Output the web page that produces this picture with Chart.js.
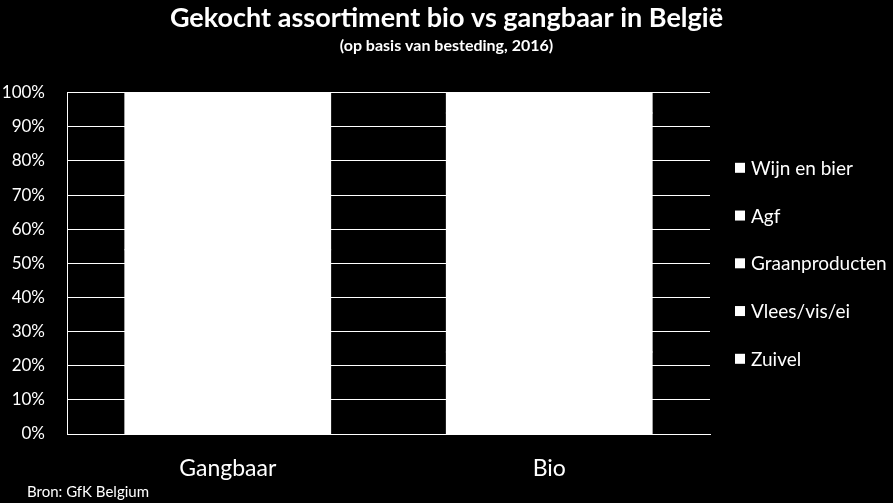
<!DOCTYPE html>
<html>
<head>
<meta charset="utf-8">
<script src="https://cdn.jsdelivr.net/npm/chart.js@4/dist/chart.umd.min.js"></script>
<style>
  html, body { margin: 0; padding: 0; background: #000; }
  #wrap { width: 893px; height: 503px; }
</style>
</head>
<body>
<div id="wrap"><canvas id="assortChart" width="893" height="503"></canvas></div>
<script>
// categorieën en aandelen (%), van onder naar boven gestapeld
const categories = ["Gangbaar", "Bio"];
const zuivel = [20, 24];
const vleesVisEi = [34, 16];
const graanproducten = [16, 20];
const agf = [20, 34];
const wijnEnBier = [10, 6];
const yTicks = [0, 10, 20, 30, 40, 50, 60, 70, 80, 90, 100];

const FONT = "Lato, 'Open Sans', sans-serif";

// achtergrond zwart
const bgPlugin = {
  id: "bg",
  beforeDraw(chart) {
    const ctx = chart.ctx;
    ctx.save();
    ctx.fillStyle = "#000";
    ctx.fillRect(0, 0, chart.width, chart.height);
    ctx.restore();
  }
};

// legende rechts (omgekeerde volgorde) + bronvermelding
const sidePlugin = {
  id: "side",
  afterDraw(chart) {
    const ctx = chart.ctx;
    const area = chart.chartArea;
    const sets = chart.data.datasets.slice().reverse();
    ctx.save();
    ctx.font = "19px " + FONT;
    ctx.textBaseline = "middle";
    ctx.textAlign = "left";
    const step = 47.75;
    const mid = (area.top + area.bottom) / 2;
    const y0 = mid - step * (sets.length - 1) / 2;
    sets.forEach((ds, i) => {
      const y = y0 + i * step;
      ctx.fillStyle = ds.backgroundColor;
      ctx.fillRect(area.right + 25, y - 5, 10, 10);
      ctx.fillStyle = "#fff";
      ctx.fillText(ds.label, area.right + 41, y + 1);
    });
    ctx.font = "15px " + FONT;
    ctx.fillText("Bron: GfK Belgium", 27, 492);
    ctx.restore();
  }
};

function makeSet(label, data) {
  return {
    label: label,
    data: data,
    backgroundColor: "#ffffff",
    borderWidth: 0,
    inflateAmount: 0.5
  };
}

new Chart(document.getElementById("assortChart"), {
  type: "bar",
  data: {
    labels: categories,
    datasets: [
      makeSet("Zuivel", zuivel),
      makeSet("Vlees/vis/ei", vleesVisEi),
      makeSet("Graanproducten", graanproducten),
      makeSet("Agf", agf),
      makeSet("Wijn en bier", wijnEnBier)
    ]
  },
  options: {
    responsive: false,
    animation: false,
    layout: { padding: 0 },
    datasets: { bar: { categoryPercentage: 1, barPercentage: 0.64 } },
    plugins: {
      legend: { display: false },
      tooltip: { enabled: false },
      title: {
        display: true,
        text: "Gekocht assortiment bio vs gangbaar in België",
        color: "#fff",
        font: { family: FONT, size: 27, weight: "bold" },
        padding: { top: 2, bottom: 2 }
      },
      subtitle: {
        display: true,
        text: "(op basis van besteding, 2016)",
        color: "#fff",
        font: { family: FONT, size: 16, weight: "bold" },
        padding: { top: 0, bottom: 37 }
      }
    },
    scales: {
      x: {
        stacked: true,
        grid: { display: false },
        border: { display: true, color: "#fff", width: 1 },
        ticks: { color: "#fff", font: { family: FONT, size: 23 }, padding: 13 },
        afterFit(s) { s.height = 69; }
      },
      y: {
        stacked: true,
        min: 0,
        max: 100,
        afterBuildTicks(s) { s.ticks = yTicks.map(v => ({ value: v })); },
        grid: { color: "#fff", lineWidth: 1, drawTicks: false },
        border: { display: true, color: "#fff", width: 1 },
        ticks: {
          color: "#fff",
          font: { family: FONT, size: 17 },
          padding: 22,
          callback: v => v + "%"
        },
        afterFit(s) { s.width = 67; }
      },
      // lege ruimte rechts voor de legende
      legendSpace: {
        type: "linear",
        position: "right",
        display: true,
        grid: { display: false },
        border: { display: false },
        ticks: { display: false },
        afterFit(s) { s.width = 183; }
      }
    }
  },
  plugins: [bgPlugin, sidePlugin]
});
</script>
</body>
</html>
